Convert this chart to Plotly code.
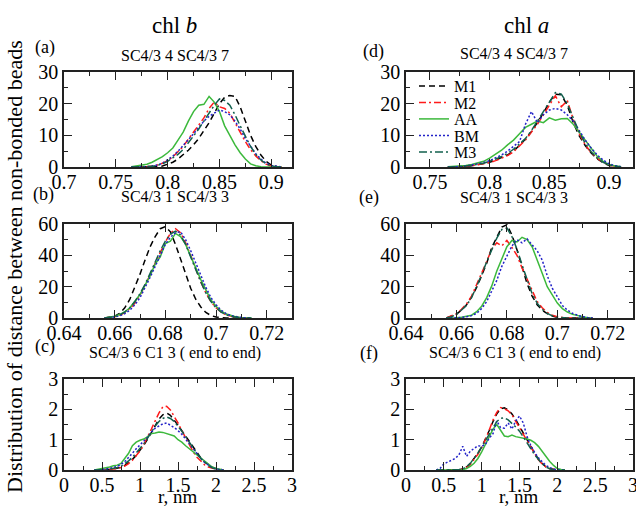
import plotly.graph_objects as go

W, H = 636, 506

series_names = ["M1", "M2", "AA", "BM", "M3"]
series_colors = ["#000000", "#ff1a1a", "#3cb93c", "#2222c8", "#12604e"]
series_dashes = ["6px,4px", "7px,3px,2px,3px", "solid", "2px,2px", "8px,3px,2px,3px"]

# ---- panel (a): chl b, SC4/3 4 - SC4/3 7
a_x = [0.765, 0.770, 0.775, 0.780, 0.785, 0.790, 0.795, 0.800, 0.805, 0.810,
       0.815, 0.820, 0.825, 0.830, 0.835, 0.840, 0.845, 0.850, 0.855, 0.860,
       0.865, 0.870, 0.875, 0.880, 0.885, 0.890, 0.895, 0.900, 0.905, 0.910]
a_M1 = [0, 0, 0, 0, 0, 0.1, 0.3, 0.8, 1.5, 2.5, 3.8, 5.3, 7.0, 9.0, 11.5, 14.0, 17.0, 20.0, 22.0, 22.6,
        22.3, 19.0, 14.5, 10.0, 6.5, 3.8, 1.8, 0.6, 0.2, 0]
a_M2 = [0, 0, 0, 0.1, 0.3, 0.6, 1.2, 2.0, 3.2, 4.8, 6.5, 8.8, 11.0, 13.2, 15.5, 18.5, 20.5, 19.0, 18.5, 17.0,
        14.0, 11.0, 8.0, 5.5, 3.5, 2.0, 0.9, 0.3, 0.1, 0]
a_AA = [0.1, 0.3, 0.5, 0.9, 1.5, 2.3, 3.3, 4.5, 6.0, 8.5, 11.0, 14.5, 17.5, 19.5, 19.8, 22.3, 20.5, 17.5, 13.0, 10.0,
        7.0, 4.5, 2.5, 1.0, 0.4, 0.1, 0, 0, 0, 0]
a_BM = [0, 0, 0, 0.1, 0.3, 0.6, 1.2, 2.2, 3.4, 5.0, 6.8, 8.5, 10.5, 12.5, 14.5, 16.0, 17.0, 18.0, 17.5, 16.5,
        14.5, 12.0, 9.0, 6.5, 4.2, 2.5, 1.2, 0.5, 0.2, 0]
a_M3 = [0, 0, 0, 0, 0.2, 0.5, 1.0, 1.8, 2.8, 4.0, 5.5, 7.5, 9.8, 12.0, 14.5, 17.0, 19.5, 21.5, 21.0, 19.5,
        16.5, 13.0, 9.5, 6.5, 4.0, 2.2, 1.0, 0.4, 0.1, 0]

# ---- panel (d): chl a, SC4/3 4 - SC4/3 7
d_x = list(a_x)
d_M1 = [0, 0, 0.1, 0.2, 0.4, 0.7, 1.0, 1.5, 2.2, 2.9, 3.8, 5.0, 6.8, 8.8, 11.2, 14.0, 17.0, 20.5, 23.0, 22.8,
        19.5, 14.0, 9.8, 6.8, 4.4, 2.6, 1.3, 0.5, 0.2, 0]
d_M2 = [0, 0, 0.1, 0.2, 0.4, 0.7, 1.0, 1.4, 2.0, 2.8, 3.6, 4.8, 6.5, 8.5, 11.0, 13.5, 16.5, 19.5, 22.5, 19.0,
        21.0, 15.0, 10.5, 7.0, 4.5, 2.8, 1.5, 0.6, 0.2, 0]
d_AA = [0.1, 0.2, 0.3, 0.5, 0.8, 1.2, 1.8, 2.8, 4.0, 5.3, 7.0, 8.5, 10.5, 12.5, 13.5, 14.5, 14.0, 15.5, 14.8, 15.2,
        15.3, 13.5, 11.0, 8.5, 5.8, 3.4, 1.8, 0.7, 0.3, 0.1]
d_BM = [0, 0, 0.1, 0.3, 0.6, 1.0, 1.4, 2.0, 2.8, 3.8, 5.0, 6.5, 8.0, 13.5, 17.5, 14.0, 16.5, 18.0, 18.5, 18.0,
        16.5, 14.5, 11.5, 8.5, 6.0, 3.8, 2.2, 1.0, 0.4, 0.1]
d_M3 = [0, 0, 0.1, 0.3, 0.5, 0.8, 1.2, 1.8, 2.5, 3.3, 4.3, 5.6, 7.2, 9.0, 11.5, 14.5, 17.5, 20.5, 23.5, 23.0,
        20.0, 15.5, 11.0, 7.5, 4.8, 2.8, 1.5, 0.7, 0.2, 0]

# ---- panel (b): chl b, SC4/3 1 - SC4/3 3
b_x = [0.656, 0.658, 0.660, 0.662, 0.664, 0.666, 0.668, 0.670, 0.672, 0.674,
       0.676, 0.678, 0.680, 0.682, 0.684, 0.686, 0.688, 0.690, 0.692, 0.694,
       0.696, 0.698, 0.700, 0.702, 0.704, 0.706, 0.708, 0.710, 0.712, 0.714]
b_M1 = [0, 0.4, 1.2, 3.0, 6.5, 12.0, 19.5, 28.0, 37.0, 45.5, 52.0, 57.0, 58.3, 55.0, 47.0, 37.5, 27.5, 19.0, 12.0, 7.0,
        3.5, 1.6, 0.6, 0.2, 0, 0, 0, 0, 0, 0]
b_M2 = [0, 0.2, 0.8, 1.8, 3.5, 6.0, 9.5, 14.5, 20.5, 27.5, 35.0, 42.0, 48.5, 54.0, 57.0, 54.5, 48.0, 40.0, 31.0, 23.0,
        16.0, 10.5, 6.5, 3.8, 2.0, 1.0, 0.4, 0.1, 0, 0]
b_AA = [0, 0.5, 1.2, 2.2, 4.0, 6.5, 10.5, 15.0, 21.0, 27.0, 34.5, 39.0, 47.5, 49.0, 54.0, 52.0, 47.0, 40.0, 32.0, 24.5,
        17.5, 11.5, 7.5, 4.5, 2.5, 1.3, 0.6, 0.2, 0, 0]
b_BM = [0, 0.2, 0.6, 1.4, 2.8, 5.0, 8.5, 13.0, 19.0, 26.0, 33.0, 40.5, 47.0, 51.5, 54.5, 55.0, 50.0, 43.0, 35.0, 27.0,
        19.5, 13.0, 8.5, 5.0, 2.8, 1.5, 0.7, 0.3, 0.1, 0]
b_M3 = [0, 0.3, 0.9, 2.0, 3.8, 6.5, 10.5, 15.5, 21.5, 28.5, 36.0, 43.0, 49.0, 53.5, 55.5, 53.0, 47.0, 39.5, 31.0, 23.0,
        16.0, 10.5, 6.5, 3.8, 2.0, 1.0, 0.4, 0.1, 0, 0]

# ---- panel (e): chl a, SC4/3 1 - SC4/3 3
e_x = list(b_x)
e_M1 = [0, 1.0, 2.5, 5.0, 8.5, 13.5, 19.5, 27.0, 35.0, 45.0, 52.0, 58.0, 59.5, 53.0, 43.5, 33.0, 22.0, 14.0, 8.5, 5.0,
        2.8, 1.2, 0.4, 0.1, 0, 0, 0, 0, 0, 0]
e_M2 = [0, 1.2, 2.8, 5.5, 9.0, 14.0, 21.0, 28.0, 36.0, 44.0, 48.0, 46.0, 49.5, 45.0, 40.0, 32.0, 24.5, 17.0, 10.5, 6.5,
        3.5, 1.8, 0.8, 0.3, 0, 0, 0, 0, 0, 0]
e_AA = [0, 0, 0.2, 0.5, 1.0, 1.8, 4.0, 7.5, 13.0, 20.5, 30.0, 38.0, 45.5, 49.5, 48.5, 51.5, 50.0, 45.5, 37.5, 28.5,
        20.0, 14.5, 9.5, 6.0, 3.8, 2.3, 1.5, 0.7, 0.2, 0]
e_BM = [0, 0, 0, 0.3, 0.8, 1.5, 3.0, 6.0, 10.5, 17.0, 24.0, 33.0, 40.0, 46.0, 50.0, 48.0, 50.5, 47.0, 43.0, 37.0,
        27.0, 19.0, 13.0, 8.0, 5.0, 3.0, 1.8, 0.8, 0.3, 0]
e_M3 = [0, 0.8, 2.2, 4.8, 8.0, 13.0, 20.0, 27.5, 36.0, 44.0, 51.0, 56.5, 57.5, 52.0, 44.0, 34.0, 24.0, 15.5, 9.5, 5.5,
        3.0, 1.4, 0.5, 0.1, 0, 0, 0, 0, 0, 0]

# ---- panel (c): chl b, SC4/3 6 - C1 3 (end to end)
c_x = [0.40, 0.45, 0.50, 0.55, 0.60, 0.65, 0.70, 0.75, 0.80, 0.85,
       0.90, 0.95, 1.00, 1.05, 1.10, 1.15, 1.20, 1.25, 1.30, 1.35,
       1.40, 1.45, 1.50, 1.55, 1.60, 1.65, 1.70, 1.75, 1.80, 1.85,
       1.90, 1.95, 2.00, 2.05, 2.10]
c_M1 = [0, 0, 0, 0.01, 0.02, 0.03, 0.05, 0.09, 0.15, 0.24, 0.35, 0.48, 0.64, 0.82, 1.02, 1.25, 1.48, 1.68,
        1.82, 1.88, 1.80, 1.65, 1.48, 1.30, 1.12, 0.93, 0.74, 0.56, 0.40, 0.27, 0.17, 0.09, 0.04, 0.01, 0]
c_M2 = [0, 0, 0, 0.01, 0.02, 0.03, 0.05, 0.08, 0.13, 0.21, 0.32, 0.46, 0.63, 0.84, 1.08, 1.35, 1.62, 1.88,
        2.08, 2.10, 1.98, 1.78, 1.55, 1.30, 1.05, 0.82, 0.60, 0.42, 0.28, 0.17, 0.10, 0.05, 0.02, 0, 0]
c_AA = [0, 0.02, 0.05, 0.07, 0.10, 0.14, 0.16, 0.22, 0.40, 0.55, 0.80, 0.92, 0.98, 1.02, 1.10, 1.20, 1.22, 1.25,
        1.24, 1.20, 1.18, 1.12, 1.00, 0.92, 0.80, 0.70, 0.60, 0.48, 0.38, 0.28, 0.18, 0.10, 0.05, 0.02, 0]
c_BM = [0, 0, 0.01, 0.03, 0.05, 0.08, 0.12, 0.18, 0.28, 0.40, 0.55, 0.70, 0.82, 0.95, 1.08, 1.25, 1.38, 1.45,
        1.52, 1.55, 1.48, 1.40, 1.30, 1.18, 1.02, 0.85, 0.70, 0.52, 0.38, 0.25, 0.15, 0.08, 0.03, 0.01, 0]
c_M3 = [0, 0, 0, 0.01, 0.03, 0.05, 0.08, 0.12, 0.20, 0.30, 0.42, 0.56, 0.70, 0.86, 1.05, 1.25, 1.45, 1.60,
        1.70, 1.75, 1.70, 1.60, 1.45, 1.28, 1.10, 0.90, 0.72, 0.54, 0.38, 0.25, 0.15, 0.07, 0.03, 0.01, 0]

# ---- panel (f): chl a, SC4/3 6 - C1 3 (end to end)
f_x = list(c_x)
f_M1 = [0, 0, 0, 0, 0, 0, 0.01, 0.04, 0.10, 0.22, 0.38, 0.55, 0.75, 1.00, 1.30, 1.60, 1.85, 2.02,
        2.05, 1.98, 1.85, 1.66, 1.45, 1.22, 1.00, 0.78, 0.55, 0.36, 0.22, 0.10, 0.05, 0.02, 0, 0, 0]
f_M2 = [0, 0, 0, 0, 0, 0, 0.01, 0.03, 0.08, 0.18, 0.34, 0.52, 0.74, 1.00, 1.32, 1.65, 1.90, 2.06,
        2.02, 1.95, 1.82, 1.62, 1.40, 1.18, 0.96, 0.74, 0.52, 0.34, 0.20, 0.10, 0.04, 0.01, 0, 0, 0]
f_AA = [0, 0, 0, 0, 0, 0, 0, 0.01, 0.05, 0.12, 0.22, 0.38, 0.60, 0.85, 1.10, 1.35, 1.50, 1.30,
        1.12, 1.10, 1.15, 1.10, 1.08, 1.05, 1.02, 0.98, 0.90, 0.78, 0.60, 0.45, 0.28, 0.15, 0.05, 0.02, 0]
f_BM = [0, 0.05, 0.20, 0.25, 0.32, 0.38, 0.50, 0.78, 0.45, 0.62, 0.72, 0.80, 0.78, 0.85, 1.05, 1.20, 1.62, 1.40,
        1.38, 1.55, 1.35, 1.62, 1.78, 1.55, 1.10, 0.80, 0.58, 0.40, 0.27, 0.15, 0.08, 0.03, 0.01, 0, 0]
f_M3 = [0, 0, 0, 0, 0, 0, 0.01, 0.04, 0.10, 0.22, 0.38, 0.56, 0.76, 0.98, 1.20, 1.42, 1.60, 1.70,
        1.72, 1.65, 1.55, 1.42, 1.28, 1.10, 0.90, 0.70, 0.50, 0.33, 0.20, 0.10, 0.04, 0.01, 0, 0, 0]

panel_titles = {"a": "SC4/3 4 SC4/3 7", "d": "SC4/3 4 SC4/3 7",
                "b": "SC4/3 1 SC4/3 3", "e": "SC4/3 1 SC4/3 3",
                "c": "SC4/3 6 C1 3 ( end to end)", "f": "SC4/3 6 C1 3 ( end to end)"}
column_titles = ["chl <i>b</i>", "chl <i>a</i>"]
y_title = "Distribution of distance between non-bonded beads"
x_title = "r, nm"

SERIF = "Liberation Serif, Times New Roman, Times, serif"


def px(x):
    return x / W


def py(y):
    return 1 - y / H


cols = [(64, 292), (406, 633)]
rows = [(72, 167), (224, 318), (379, 470)]

# key, x data, series, col, row, x range, tick0, dtick, minor dtick, y range, y dtick, y minor
panels = [
    ("a", a_x, [a_M1, a_M2, a_AA, a_BM, a_M3], 0, 0, [0.7, 0.92], 0.7, 0.05, 0.025, [0, 30], 10, 5),
    ("d", d_x, [d_M1, d_M2, d_AA, d_BM, d_M3], 1, 0, [0.73, 0.92], 0.7, 0.05, 0.025, [0, 30], 10, 5),
    ("b", b_x, [b_M1, b_M2, b_AA, b_BM, b_M3], 0, 1, [0.64, 0.73], 0.64, 0.02, 0.01, [0, 60], 20, 10),
    ("e", e_x, [e_M1, e_M2, e_AA, e_BM, e_M3], 1, 1, [0.64, 0.73], 0.64, 0.02, 0.01, [0, 60], 20, 10),
    ("c", c_x, [c_M1, c_M2, c_AA, c_BM, c_M3], 0, 2, [0, 3], 0, 0.5, 0.25, [0, 3], 1, 0.5),
    ("f", f_x, [f_M1, f_M2, f_AA, f_BM, f_M3], 1, 2, [0, 3], 0, 0.5, 0.25, [0, 3], 1, 0.5),
]

legend_ids = ["legend", "legend2", "legend3", "legend4", "legend5"]
legend_rows = [86, 102.5, 119, 135.5, 152]

fig = go.Figure()
layout = dict(
    width=W, height=H, margin=dict(l=0, r=0, t=0, b=0),
    paper_bgcolor="white", plot_bgcolor="white",
    font=dict(family=SERIF, size=16, color="black"),
)

axis_common = dict(
    ticks="inside", ticklen=8, tickwidth=1.3, tickcolor="#222",
    showline=True, linecolor="#222", linewidth=1.7, mirror="ticks",
    showgrid=False, zeroline=False, automargin=False, ticklabeloverflow="allow",
    tickfont=dict(family=SERIF, size=20, color="black"),
)

annotations = []
for idx, (key, xs, ys_list, c, r, xr, t0, dt, mdt, yr, ydt, ymdt) in enumerate(panels):
    k = idx + 1
    xname = "x" if k == 1 else f"x{k}"
    yname = "y" if k == 1 else f"y{k}"
    for i, ys in enumerate(ys_list):
        fig.add_trace(go.Scatter(
            x=xs, y=ys, mode="lines", name=series_names[i],
            line=dict(color=series_colors[i], width=1.5, dash=series_dashes[i]),
            xaxis=xname, yaxis=yname, hoverinfo="skip",
            showlegend=(key == "d"), legend=legend_ids[i],
        ))
    x0, x1 = cols[c]
    ytop, ybot = rows[r]
    layout["xaxis" if k == 1 else f"xaxis{k}"] = dict(
        axis_common, domain=[px(x0), px(x1)], range=xr, tick0=t0, dtick=dt,
        anchor=yname, ticklabelstandoff=-4,
        minor=dict(tick0=t0, dtick=mdt, ticks="inside", ticklen=4, tickwidth=1.3,
                   tickcolor="#222", showgrid=False),
    )
    layout["yaxis" if k == 1 else f"yaxis{k}"] = dict(
        axis_common, domain=[py(ybot), py(ytop)], range=yr, tick0=0, dtick=ydt,
        anchor=xname,
        minor=dict(tick0=0, dtick=ymdt, ticks="inside", ticklen=4, tickwidth=1.3,
                   tickcolor="#222", showgrid=False),
    )

title_pos = {"a": (175, 55), "d": (514, 53), "b": (175, 196), "e": (514, 197),
             "c": (175, 353), "f": (515, 353)}
label_pos = {"a": (45, 47), "d": (373, 52), "b": (43, 194), "e": (369, 197),
             "c": (45, 346), "f": (369, 353)}
for key, (tx, ty) in title_pos.items():
    annotations.append(dict(text=panel_titles[key], x=px(tx), y=py(ty), xref="paper", yref="paper",
                            showarrow=False, xanchor="center", yanchor="middle",
                            font=dict(family=SERIF, size=16, color="black")))
for key, (lx, ly) in label_pos.items():
    annotations.append(dict(text=f"({key})", x=px(lx), y=py(ly), xref="paper", yref="paper",
                            showarrow=False, xanchor="center", yanchor="middle",
                            font=dict(family=SERIF, size=18, color="black")))
for ct, cx in zip(column_titles, [174, 526]):
    annotations.append(dict(text=ct, x=px(cx), y=py(25), xref="paper", yref="paper",
                            showarrow=False, xanchor="center", yanchor="middle",
                            font=dict(family=SERIF, size=23, color="black")))
for cx in [178, 519]:
    annotations.append(dict(text=x_title, x=px(cx), y=py(496), xref="paper", yref="paper",
                            showarrow=False, xanchor="center", yanchor="middle",
                            font=dict(family=SERIF, size=19, color="black")))
annotations.append(dict(text=y_title, x=px(14), y=py(267), xref="paper", yref="paper",
                        showarrow=False, xanchor="center", yanchor="middle", textangle=-90,
                        font=dict(family=SERIF, size=22, color="black")))
layout["annotations"] = annotations

for lid, ly in zip(legend_ids, legend_rows):
    layout[lid] = dict(x=px(414), y=py(ly), xanchor="left", yanchor="middle",
                       bgcolor="rgba(0,0,0,0)", borderwidth=0, itemwidth=30,
                       font=dict(family=SERIF, size=16, color="black"))

fig.update_layout(**layout)
fig.write_html(
    "out.html",
    config={"displayModeBar": False},
    post_script="document.body.style.margin='0px';document.body.style.overflow='hidden';",
)
